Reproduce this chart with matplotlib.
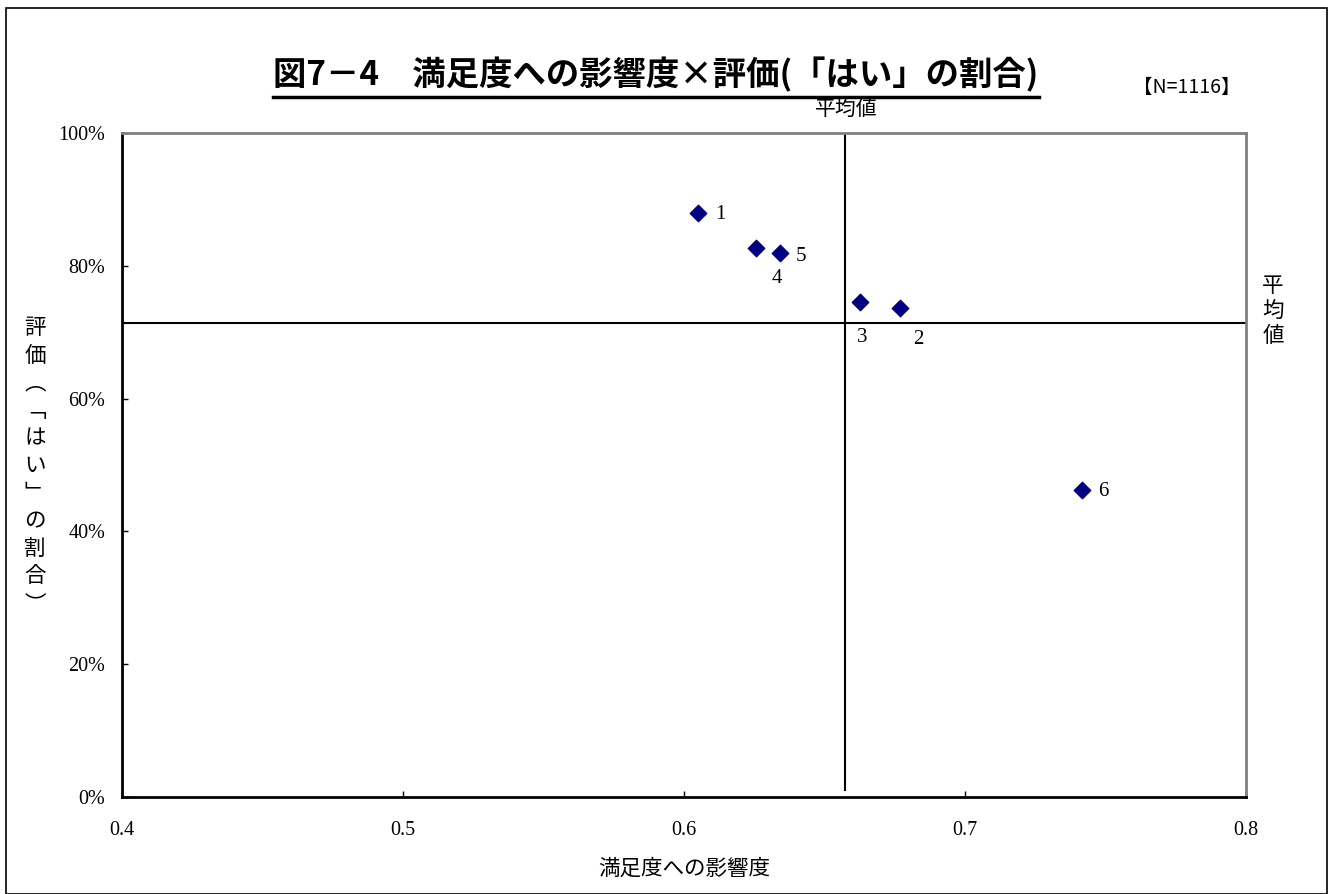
import matplotlib.pyplot as plt
from matplotlib.patches import Rectangle
from matplotlib.ticker import PercentFormatter

plt.rcParams['font.family'] = ['Noto Sans CJK JP', 'DejaVu Sans']

# 満足度への影響度 (x) と「はい」の割合 (y)
items = ['1', '2', '3', '4', '5', '6']
influence = [0.605, 0.677, 0.6626, 0.6256, 0.6342, 0.7416]
yes_ratio = [0.880, 0.736, 0.745, 0.827, 0.819, 0.462]
mean_x = 0.6573
mean_y = 0.714

x_ticks = [0.4, 0.5, 0.6, 0.7, 0.8]
y_ticks = [0.0, 0.2, 0.4, 0.6, 0.8, 1.0]

# label offsets in points (dx, dy) for each item number
label_offsets = {'1': (12, -8), '2': (9, -29), '3': (-2, -32),
                 '4': (11, -29), '5': (11, -9), '6': (12, -8)}

fig = plt.figure(figsize=(13.34, 8.94), dpi=100)
fig.patches.append(Rectangle((6 / 1334, 0), 1321 / 1334, 1 - 8 / 894,
                             transform=fig.transFigure, fill=False,
                             edgecolor='black', linewidth=1.2))

ax = fig.add_axes([122 / 1334, 1 - 797 / 894, 1124 / 1334, 664 / 894])
ax.scatter(influence, yes_ratio, marker='D', s=70, color='#000080', zorder=3)
for name, x, y in zip(items, influence, yes_ratio):
    dx, dy = label_offsets[name]
    ax.annotate(name, (x, y), xytext=(dx, dy), textcoords='offset points',
                fontsize=15, family='Liberation Serif', va='bottom', ha='left')

ax.axvline(mean_x, ymin=0.01, ymax=1, color='black', linewidth=1.5)
ax.axhline(mean_y, color='black', linewidth=1.5)

ax.set_xlim(0.4, 0.8)
ax.set_ylim(0, 1)
ax.set_xticks(x_ticks)
ax.set_yticks(y_ticks)
ax.set_xticklabels([f'{v:g}' for v in x_ticks], family='Liberation Serif', fontsize=14.5)
ax.yaxis.set_major_formatter(PercentFormatter(1.0, decimals=0))
for lbl in ax.get_yticklabels():
    lbl.set_family('Liberation Serif')
    lbl.set_fontsize(14.5)
ax.tick_params(axis='both', direction='in', length=4, width=1)
ax.tick_params(axis='x', pad=17)
ax.tick_params(axis='y', pad=12)

for side in ['top', 'right']:
    ax.spines[side].set_color('#808080')
    ax.spines[side].set_linewidth(2)
for side in ['left', 'bottom']:
    ax.spines[side].set_color('black')
    ax.spines[side].set_linewidth(2)

ax.set_xlabel('満足度への影響度', fontsize=15.5, labelpad=13)

# vertical y-axis label, one character per line
ylabel = '評価︵﹁はい﹂の割合︶'
fig.text(35 / 1334, 1 - 466 / 894, '\n'.join(ylabel), fontsize=15.5,
         ha='center', va='center', linespacing=1.33)

fig.text(846 / 1334, 1 - 109 / 894, '平均値', fontsize=15, ha='center', va='center')
fig.text(1273 / 1334, 1 - 311 / 894, '平\n均\n値', fontsize=15.5,
         ha='center', va='center', linespacing=1.15)
fig.text(1187 / 1334, 1 - 87 / 894, '【N=1116】', fontsize=14, ha='center', va='center')

title = fig.text(656 / 1334, 1 - 75 / 894, '図7－4　満足度への影響度×評価(「はい」の割合)',
                 fontsize=24, fontweight='bold', ha='center', va='center')
fig.canvas.draw()
bb = title.get_window_extent().transformed(fig.transFigure.inverted())
fig.add_artist(plt.Line2D([bb.x0, bb.x1], [1 - 97 / 894] * 2,
                          transform=fig.transFigure, color='black', linewidth=2.5))

fig.savefig('out.png', dpi=100)
